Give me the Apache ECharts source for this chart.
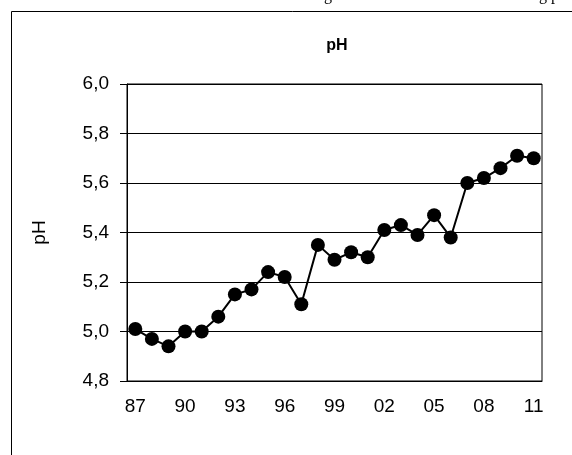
<!DOCTYPE html>
<html>
<head>
<meta charset="utf-8">
<script src="https://cdn.jsdelivr.net/npm/echarts@6/dist/echarts.min.js"></script>
<style>
  html, body { margin: 0; padding: 0; background: #fff; }
  #app { width: 572px; height: 455px; }
</style>
</head>
<body>
<div id="app"></div>
<script>
const years = [
  "1987", "1988", "1989", "1990", "1991", "1992", "1993", "1994", "1995",
  "1996", "1997", "1998", "1999", "2000", "2001", "2002", "2003", "2004",
  "2005", "2006", "2007", "2008", "2009", "2010", "2011"
];
const phValues = [
  5.01, 4.97, 4.94, 5.0, 5.0, 5.06, 5.15, 5.17, 5.24,
  5.22, 5.11, 5.35, 5.29, 5.32, 5.3, 5.41, 5.43, 5.39,
  5.47, 5.38, 5.6, 5.62, 5.66, 5.71, 5.7
];
const yTicks = [4.8, 5.0, 5.2, 5.4, 5.6, 5.8, 6.0];

const font = "Liberation Sans";

const dom = document.getElementById("app");
const myChart = echarts.init(dom);

myChart.setOption({
  animation: false,
  title: {
    text: "pH",
    left: 332,
    top: 33,
    textAlign: "center",
    textStyle: { fontFamily: font, fontSize: 16, fontWeight: "bold", color: "#000" }
  },
  graphic: [
    {
      type: "rect",
      shape: { x: 11.5, y: 11.5, width: 600, height: 500 },
      style: { fill: "none", stroke: "#000", lineWidth: 1 }
    },
    {
      type: "text",
      x: 324,
      y: -4,
      style: { text: "g", font: '16px "Liberation Serif"', fill: "#000", verticalAlign: "middle" }
    },
    {
      type: "text",
      x: 539,
      y: -4,
      style: { text: "g p", font: '16px "Liberation Serif"', fill: "#000", verticalAlign: "middle" }
    }
  ],
  grid: {
    left: 127,
    right: 30,
    top: 84,
    bottom: 74,
    show: true,
    borderColor: "#000",
    borderWidth: 1
  },
  xAxis: {
    type: "category",
    data: years,
    boundaryGap: true,
    axisLine: { lineStyle: { color: "#000", width: 1 } },
    axisTick: { interval: 2, length: 6, lineStyle: { color: "#000" } },
    axisLabel: {
      interval: 2,
      margin: 16,
      color: "#000",
      fontFamily: font,
      fontSize: 19,
      formatter: (v) => v.slice(2)
    },
    splitLine: { show: false }
  },
  yAxis: {
    type: "value",
    min: yTicks[0],
    max: yTicks[yTicks.length - 1],
    interval: 0.2,
    name: "pH",
    nameLocation: "middle",
    nameGap: 78,
    nameTextStyle: { fontFamily: font, fontSize: 19, color: "#000" },
    axisLine: { show: true, lineStyle: { color: "#000", width: 1 } },
    axisTick: { show: true, length: 7, lineStyle: { color: "#000" } },
    axisLabel: {
      margin: 18,
      color: "#000",
      fontFamily: font,
      fontSize: 19,
      formatter: (v) => v.toFixed(1).replace(".", ",")
    },
    splitLine: { show: true, lineStyle: { color: "#000", width: 1 } }
  },
  series: [
    {
      name: "pH",
      type: "line",
      data: phValues,
      symbol: "circle",
      symbolSize: 14,
      showAllSymbol: true,
      itemStyle: { color: "#000" },
      lineStyle: { color: "#000", width: 2 }
    }
  ]
});
</script>
</body>
</html>
